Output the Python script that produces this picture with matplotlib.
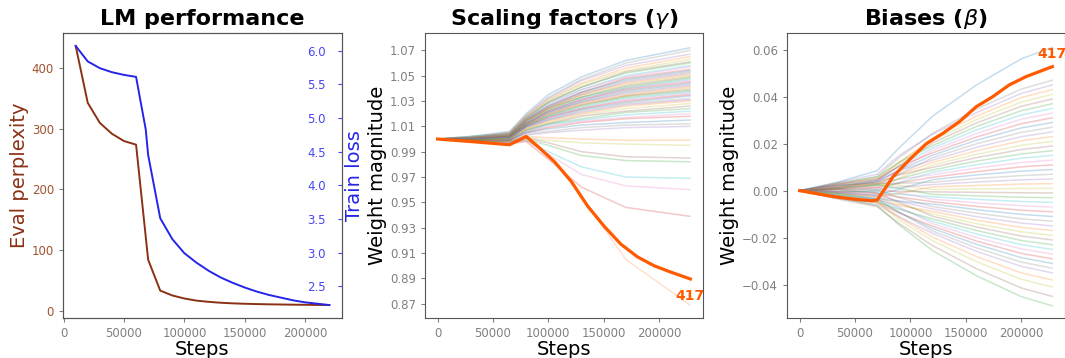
import matplotlib
matplotlib.use("Agg")
import matplotlib.pyplot as plt

# LM performance
eval_steps = [10000, 20000, 30000, 40000, 50000, 60000, 70000, 80000, 90000, 100000,
              110000, 120000, 130000, 140000, 150000, 160000, 170000, 180000, 190000,
              200000, 210000, 220000]
eval_ppl = [437, 343, 310, 292, 280, 274, 84, 33, 25, 20, 16.5, 14.5, 13, 12, 11.3,
            10.8, 10.4, 10.1, 9.8, 9.6, 9.4, 9.2]
loss_steps = [10000, 20000, 30000, 40000, 50000, 60000, 68000, 70000, 80000, 90000,
              100000, 110000, 120000, 130000, 140000, 150000, 160000, 170000, 180000,
              190000, 200000, 210000, 220000]
train_loss = [6.07, 5.84, 5.74, 5.68, 5.64, 5.61, 4.83, 4.45, 3.51, 3.20, 2.99, 2.85,
              2.73, 2.63, 2.55, 2.48, 2.42, 2.37, 2.33, 2.29, 2.26, 2.24, 2.22]

# scaling factors (gamma), one row per dimension, read at gamma_steps
gamma_steps = [0, 30000, 65000, 80000, 100000, 130000, 170000, 228000]
gamma_lines = [
    [1.000, 1.002, 1.006, 1.020, 1.035, 1.049, 1.062, 1.072],
    [1.000, 1.001, 1.005, 1.019, 1.033, 1.047, 1.060, 1.070],
    [1.000, 1.002, 1.005, 1.018, 1.032, 1.046, 1.058, 1.067],
    [1.000, 1.001, 1.004, 1.018, 1.031, 1.044, 1.056, 1.065],
    [1.000, 1.002, 1.005, 1.017, 1.030, 1.043, 1.054, 1.063],
    [1.000, 1.001, 1.004, 1.017, 1.029, 1.041, 1.053, 1.061],
    [1.000, 1.001, 1.003, 1.016, 1.029, 1.041, 1.052, 1.060],
    [1.000, 1.002, 1.004, 1.016, 1.028, 1.039, 1.050, 1.058],
    [1.000, 1.001, 1.004, 1.016, 1.027, 1.039, 1.049, 1.057],
    [1.000, 1.001, 1.003, 1.015, 1.026, 1.037, 1.048, 1.055],
    [1.000, 1.000, 1.003, 1.015, 1.026, 1.037, 1.047, 1.054],
    [1.000, 1.001, 1.004, 1.015, 1.025, 1.036, 1.046, 1.053],
    [1.000, 1.001, 1.002, 1.014, 1.025, 1.035, 1.045, 1.052],
    [1.000, 1.000, 1.003, 1.014, 1.024, 1.035, 1.044, 1.051],
    [1.000, 1.001, 1.003, 1.014, 1.024, 1.034, 1.043, 1.050],
    [1.000, 1.000, 1.002, 1.014, 1.024, 1.033, 1.042, 1.049],
    [1.000, 1.001, 1.003, 1.013, 1.023, 1.033, 1.041, 1.048],
    [1.000, 1.000, 1.002, 1.013, 1.022, 1.032, 1.040, 1.047],
    [1.000, 1.001, 1.003, 1.013, 1.022, 1.031, 1.040, 1.046],
    [1.000, 1.000, 1.002, 1.012, 1.022, 1.031, 1.039, 1.045],
    [1.000, 1.000, 1.002, 1.012, 1.021, 1.030, 1.038, 1.044],
    [1.000, 1.001, 1.002, 1.012, 1.021, 1.029, 1.037, 1.043],
    [1.000, 1.000, 1.001, 1.012, 1.020, 1.029, 1.036, 1.042],
    [1.000, 1.000, 1.002, 1.011, 1.020, 1.028, 1.035, 1.041],
    [1.000, 0.999, 1.001, 1.011, 1.019, 1.027, 1.034, 1.040],
    [1.000, 1.000, 1.002, 1.011, 1.019, 1.027, 1.034, 1.039],
    [1.000, 1.000, 1.001, 1.011, 1.018, 1.026, 1.033, 1.038],
    [1.000, 0.999, 1.001, 1.010, 1.018, 1.025, 1.032, 1.037],
    [1.000, 1.000, 1.001, 1.010, 1.017, 1.024, 1.031, 1.036],
    [1.000, 0.999, 1.000, 1.010, 1.017, 1.024, 1.030, 1.035],
    [1.000, 1.000, 1.001, 1.010, 1.016, 1.023, 1.029, 1.034],
    [1.000, 0.999, 1.000, 1.009, 1.015, 1.022, 1.028, 1.032],
    [1.000, 1.000, 1.001, 1.009, 1.015, 1.021, 1.027, 1.031],
    [1.000, 0.999, 1.000, 1.008, 1.014, 1.020, 1.026, 1.030],
    [1.000, 0.999, 1.000, 1.008, 1.013, 1.019, 1.024, 1.028],
    [1.000, 0.999, 0.999, 1.007, 1.012, 1.018, 1.022, 1.026],
    [1.000, 0.999, 1.000, 1.007, 1.012, 1.016, 1.021, 1.024],
    [1.000, 0.999, 0.999, 1.006, 1.011, 1.015, 1.019, 1.022],
    [1.000, 0.998, 0.999, 1.006, 1.010, 1.014, 1.017, 1.020],
    [1.000, 0.999, 0.999, 1.005, 1.009, 1.013, 1.016, 1.018],
    [1.000, 0.998, 0.999, 1.005, 1.008, 1.011, 1.013, 1.015],
    [1.000, 0.998, 0.998, 1.004, 1.006, 1.009, 1.011, 1.012],
    [1.000, 0.999, 0.998, 1.003, 1.005, 1.007, 1.009, 1.010],
    [1.000, 0.999, 0.998, 1.002, 1.001, 1.000, 0.999, 0.999],
    [1.000, 0.999, 0.998, 1.001, 0.999, 0.997, 0.996, 0.995],
    [1.000, 0.999, 0.998, 1.001, 0.997, 0.990, 0.986, 0.985],
    [1.000, 0.999, 0.997, 1.000, 0.995, 0.987, 0.983, 0.982],
    [1.000, 0.998, 0.997, 0.999, 0.990, 0.978, 0.970, 0.969],
    [1.000, 0.998, 0.997, 0.999, 0.988, 0.972, 0.963, 0.960],
    [1.000, 0.998, 0.996, 0.998, 0.984, 0.962, 0.946, 0.939],
]
gamma_faint_orange = [1.000, 0.998, 0.996, 0.999, 0.988, 0.955, 0.905, 0.869]
gamma_hl_steps = [0, 30000, 65000, 80000, 90700, 105700, 120700, 135600, 150600,
                  165600, 180500, 195500, 210500, 228400]
gamma_hl = [1.000, 0.998, 0.9955, 1.002, 0.994, 0.982, 0.9666, 0.947, 0.931, 0.917,
            0.907, 0.900, 0.895, 0.8895]

# biases (beta)
beta_steps = [0, 35000, 70000, 90000, 120000, 160000, 200000, 228000]
beta_lines = [
    [0, 0.0037, 0.0085, 0.0183, 0.0317, 0.0451, 0.0561, 0.061],
    [0, 0.0028, 0.0061, 0.0141, 0.0244, 0.0348, 0.0432, 0.047],
    [0, 0.0035, 0.0070, 0.0150, 0.0240, 0.0333, 0.0414, 0.045],
    [0, 0.0016, 0.0046, 0.0119, 0.0224, 0.0318, 0.0396, 0.043],
    [0, 0.0025, 0.0053, 0.0123, 0.0213, 0.0303, 0.0377, 0.041],
    [0, 0.0013, 0.0041, 0.0107, 0.0203, 0.0289, 0.0359, 0.039],
    [0, 0.0032, 0.0058, 0.0121, 0.0192, 0.0274, 0.0340, 0.037],
    [0, 0.0021, 0.0046, 0.0105, 0.0182, 0.0259, 0.0322, 0.035],
    [0, 0.0010, 0.0033, 0.0089, 0.0172, 0.0244, 0.0304, 0.033],
    [0, 0.0029, 0.0050, 0.0103, 0.0161, 0.0229, 0.0285, 0.031],
    [0, 0.0017, 0.0038, 0.0087, 0.0151, 0.0215, 0.0267, 0.029],
    [0, 0.0006, 0.0025, 0.0071, 0.0140, 0.0200, 0.0248, 0.027],
    [0, 0.0025, 0.0043, 0.0085, 0.0130, 0.0185, 0.0230, 0.025],
    [0, 0.0014, 0.0030, 0.0069, 0.0120, 0.0170, 0.0212, 0.023],
    [0, -0.0003, 0.0012, 0.0053, 0.0109, 0.0155, 0.0193, 0.021],
    [0, 0.0021, 0.0035, 0.0067, 0.0099, 0.0141, 0.0175, 0.019],
    [0, 0.0010, 0.0022, 0.0051, 0.0088, 0.0126, 0.0156, 0.017],
    [0, -0.0009, 0.0000, 0.0035, 0.0078, 0.0111, 0.0138, 0.015],
    [0, 0.0018, 0.0027, 0.0049, 0.0068, 0.0096, 0.0120, 0.013],
    [0, 0.0007, 0.0014, 0.0033, 0.0057, 0.0081, 0.0101, 0.011],
    [0, -0.0012, -0.0018, 0.0007, 0.0047, 0.0067, 0.0083, 0.009],
    [0, 0.0024, 0.0031, 0.0031, 0.0036, 0.0052, 0.0064, 0.007],
    [0, 0.0003, 0.0007, 0.0015, 0.0026, 0.0037, 0.0046, 0.005],
    [0, -0.0016, -0.0025, -0.0011, 0.0016, 0.0022, 0.0028, 0.003],
    [0, 0.0015, 0.0030, 0.0023, 0.0005, 0.0007, 0.0009, 0.001],
    [0, -0.0004, -0.0001, -0.0003, -0.0005, -0.0007, -0.0009, -0.001],
    [0, 0.0012, 0.0025, 0.0009, -0.0016, -0.0022, -0.0028, -0.003],
    [0, -0.0003, -0.0007, -0.0015, -0.0026, -0.0037, -0.0046, -0.005],
    [0, 0.0016, 0.0015, -0.0010, -0.0036, -0.0052, -0.0064, -0.007],
    [0, -0.0005, -0.0012, -0.0027, -0.0047, -0.0067, -0.0083, -0.009],
    [0, -0.0020, -0.0034, -0.0045, -0.0057, -0.0081, -0.0101, -0.011],
    [0, 0.0008, 0.0004, -0.0030, -0.0068, -0.0096, -0.0120, -0.013],
    [0, -0.0009, -0.0020, -0.0045, -0.0078, -0.0111, -0.0138, -0.015],
    [0, -0.0024, -0.0040, -0.0063, -0.0088, -0.0126, -0.0156, -0.017],
    [0, -0.0011, -0.0025, -0.0057, -0.0099, -0.0141, -0.0175, -0.019],
    [0, 0.0005, -0.0010, -0.0050, -0.0109, -0.0155, -0.0193, -0.021],
    [0, -0.0027, -0.0048, -0.0080, -0.0120, -0.0170, -0.0212, -0.023],
    [0, -0.0015, -0.0033, -0.0075, -0.0130, -0.0185, -0.0230, -0.025],
    [0, -0.0006, -0.0024, -0.0070, -0.0140, -0.0200, -0.0248, -0.027],
    [0, -0.0030, -0.0052, -0.0095, -0.0151, -0.0215, -0.0267, -0.029],
    [0, -0.0019, -0.0040, -0.0093, -0.0161, -0.0229, -0.0285, -0.031],
    [0, -0.0010, -0.0035, -0.0092, -0.0172, -0.0244, -0.0304, -0.033],
    [0, -0.0033, -0.0060, -0.0112, -0.0182, -0.0259, -0.0322, -0.035],
    [0, -0.0023, -0.0049, -0.0114, -0.0198, -0.0281, -0.0350, -0.038],
    [0, -0.0014, -0.0045, -0.0125, -0.0213, -0.0303, -0.0377, -0.041],
    [0, -0.0036, -0.0068, -0.0140, -0.0234, -0.0333, -0.0414, -0.045],
    [0, -0.0029, -0.0064, -0.0147, -0.0255, -0.0363, -0.0451, -0.049],
]
beta_hl_steps = [0, 30000, 50000, 65000, 70000, 84400, 99400, 114400, 129300, 144300,
                 159300, 174300, 189200, 204200, 228100]
beta_hl = [0.0, -0.0025, -0.0037, -0.0043, -0.0040, 0.006, 0.0133, 0.020, 0.0244,
           0.0294, 0.0357, 0.040, 0.045, 0.0485, 0.0528]
hl_dim = "417"

gamma_ticks = [0.87, 0.89, 0.91, 0.93, 0.95, 0.97, 0.99, 1.01, 1.03, 1.05, 1.07]

brown = "#8b3113"
brown_tick = "#a0522d"
blue = "#2525ea"
blue_tick = "#4646f0"
orange = "#ff5a00"
gray = "#808080"
tab10 = plt.rcParams["axes.prop_cycle"].by_key()["color"]

fig = plt.figure(figsize=(10.65, 3.58), dpi=100)
ax1 = fig.add_axes([63 / 1065, 40 / 358, 279 / 1065, 285 / 358])
ax2 = fig.add_axes([425 / 1065, 40 / 358, 278 / 1065, 285 / 358])
ax3 = fig.add_axes([787 / 1065, 40 / 358, 278 / 1065, 285 / 358])

for ax in (ax1, ax2, ax3):
    for s in ax.spines.values():
        s.set_color("#555555")
    ax.tick_params(labelsize=8.5, colors=gray, length=3)
    ax.set_xlabel("Steps", fontsize=14, labelpad=0)

# panel 1
ax1.plot(eval_steps, eval_ppl, color=brown, lw=1.4)
ax1.set_ylabel("Eval perplexity", color=brown, fontsize=14, labelpad=2)
ax1.tick_params(axis="y", labelcolor=brown_tick)
ax1.set_title("LM performance", fontsize=16, fontweight="bold")
ax1b = ax1.twinx()
ax1b.plot(loss_steps, train_loss, color=blue, lw=1.4)
ax1b.tick_params(axis="y", direction="in", pad=-25, labelsize=8.5, colors=blue_tick,
                 labelcolor=blue_tick, length=3)
ax1b.set_ylabel("Train loss", color=blue, fontsize=14, labelpad=2)
for s in ax1b.spines.values():
    s.set_color("#555555")

# panel 2
for i, vals in enumerate(gamma_lines):
    ax2.plot(gamma_steps, vals, color=tab10[(i * 7) % 10], lw=1.1, alpha=0.25)
ax2.plot(gamma_steps, gamma_faint_orange, color="#ffa070", lw=1.0, alpha=0.35)
ax2.plot(gamma_hl_steps, gamma_hl, color=orange, lw=2.3)
ax2.annotate(hl_dim, (gamma_hl_steps[-1], gamma_hl[-1]), xytext=(0, -7),
             textcoords="offset points", ha="center", va="top", color=orange,
             fontsize=10, fontweight="bold", annotation_clip=False)
ax2.set_yticks(gamma_ticks)
ax2.set_yticklabels([f"{t:.2f}" for t in gamma_ticks])
ax2.set_ylim(0.8587, 1.0837)
ax2.set_ylabel("Weight magnitude", fontsize=14, labelpad=2)
ax2.set_title(r"Scaling factors ($\gamma$)", fontsize=16, fontweight="bold")

# panel 3
for i, vals in enumerate(beta_lines):
    ax3.plot(beta_steps, vals, color=tab10[(i * 7) % 10], lw=1.1, alpha=0.25)
ax3.plot(beta_hl_steps, beta_hl, color=orange, lw=2.3)
ax3.annotate(hl_dim, (beta_hl_steps[-1], beta_hl[-1]), xytext=(0, 4),
             textcoords="offset points", ha="center", va="bottom", color=orange,
             fontsize=10, fontweight="bold", annotation_clip=False)
ax3.set_ylim(-0.0542, 0.0671)
ax3.set_ylabel("Weight magnitude", fontsize=14, labelpad=2)
ax3.set_title(r"Biases ($\beta$)", fontsize=16, fontweight="bold")

fig.savefig("out.png", dpi=100)
